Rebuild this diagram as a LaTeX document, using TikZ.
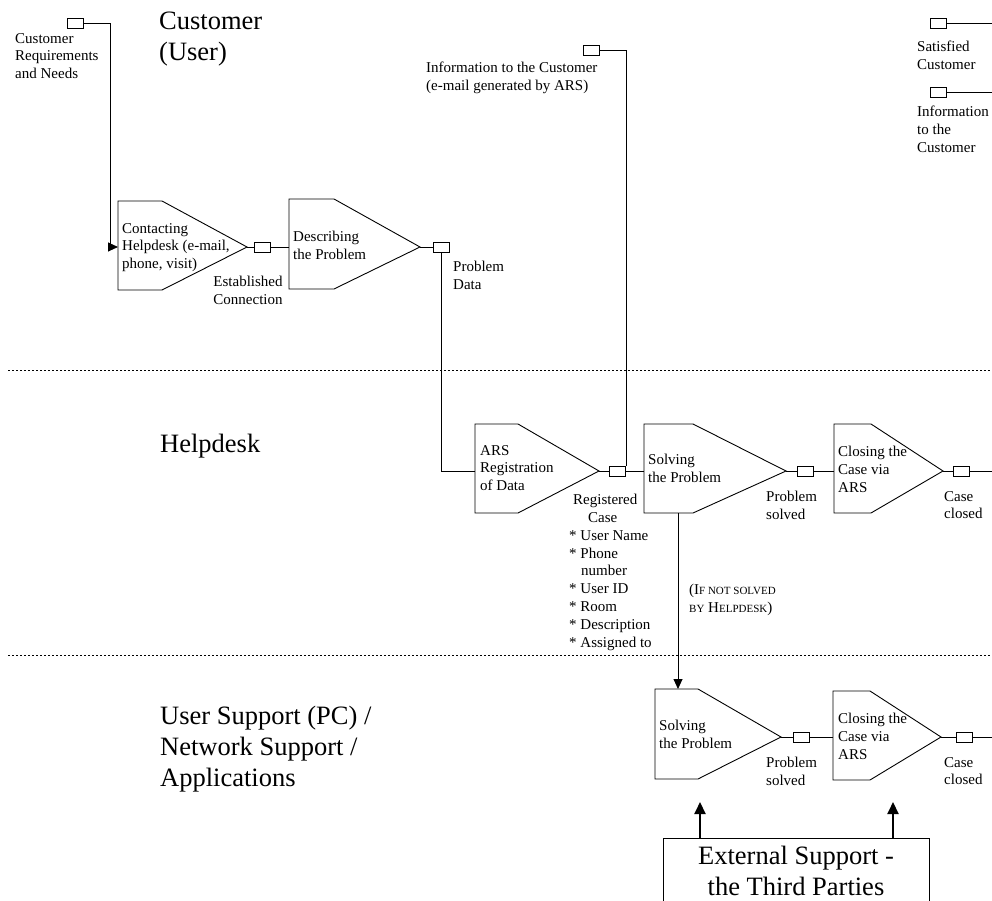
\documentclass[tikz,border=0pt]{standalone}
\usepackage{fontspec}
\setmainfont{Liberation Serif}
\usetikzlibrary{arrows.meta}
\newcommand{\procshape}[7]{%
  \draw[ln] (#2,#3) -- (#4,#3) -- (#5,#6) -- (#4,#7) -- (#2,#7) -- cycle;
  \coordinate (#1-in) at (#2,#6);
  \coordinate (#1-out) at (#5,#6);
}
\newcommand{\mysc}[1]{{\fontsize{11}{17.8}\selectfont #1}}
\begin{document}
\begin{tikzpicture}[x=1pt,y=-1pt,
  ln/.style={line width=0.9pt},
  port/.style={draw,line width=0.9pt,minimum width=16pt,minimum height=10pt,inner sep=0pt},
  sm/.style={font=\fontsize{15}{17.8}\selectfont,align=left,inner sep=0pt,anchor=north west},
  big/.style={font=\fontsize{26.5}{31}\selectfont,align=left,inner sep=0pt,anchor=north west},
  arr/.style={line width=0.9pt,-{Triangle[length=10pt,width=9pt]}},
  thickarr/.style={line width=2pt,-{Triangle[length=12pt,width=11pt]}},
  sep/.style={line width=0.9pt,dash pattern=on 2pt off 2pt}]
\useasboundingbox (0,0) rectangle (992,901);
\clip (0,0) rectangle (992,901);

% lane separators
\coordinate (s1a) at (8,370); \coordinate (s1b) at (992,370);
\coordinate (s2a) at (8,655); \coordinate (s2b) at (992,655);
\draw[sep] (s1a) -- (s1b);
\draw[sep] (s2a) -- (s2b);

% lane titles
\node[big] (tcust) at (159,11.5) {Customer\\(User)};
\node[big] (thelp) at (160,433.5) {Helpdesk};
\node[big] (tsupp) at (160,706) {User Support (PC) /\\Network Support /\\Applications};

% process shapes
\procshape{contact}{118}{201}{162}{247}{247}{290}
\procshape{desc}{289}{199}{334}{420}{247}{289}
\procshape{ars}{475}{424}{518}{599}{471}{513}
\procshape{solve}{644}{424}{693}{786}{471}{513}
\procshape{close}{834}{424}{871}{943}{471}{513}
\procshape{solvetwo}{655}{689}{698}{781}{737}{779}
\procshape{closetwo}{833}{691}{870}{941}{737}{780}

% shape texts
\node[sm] (contacttxt) at (122,223) {Contacting\\Helpdesk (e-mail,\\phone, visit)};
\node[sm] (desctxt) at (293,231) {Describing\\the Problem};
\node[sm] (arstxt) at (480,445) {ARS\\Registration\\of Data};
\node[sm] (solvetxt) at (648,454) {Solving\\the Problem};
\node[sm] (closetxt) at (838,446) {Closing the\\Case via\\ARS};
\node[sm] (solvetwotxt) at (659,720) {Solving\\the Problem};
\node[sm] (closetwotxt) at (838,713) {Closing the\\Case via\\ARS};

% ports
\node[port] (req) at (75.5,23.5) {};
\node[port] (estab) at (262,247) {};
\node[port] (pdata) at (441,247) {};
\node[port] (info) at (591,50) {};
\node[port] (regc) at (617.5,471) {};
\node[port] (psolved) at (805,471) {};
\node[port] (cclosed) at (961.5,471) {};
\node[port] (psolvedtwo) at (801,737) {};
\node[port] (cclosedtwo) at (964,737) {};
\node[port] (sat) at (938,23) {};
\node[port] (infotwo) at (938,92) {};

% port labels
\node[sm] (reqtxt) at (15,33) {Customer\\Requirements\\and Needs};
\node[sm,anchor=north,align=center] (estabtxt) at (248,276) {Established\\Connection};
\node[sm] (pdatatxt) at (453,261) {Problem\\Data};
\node[sm] (infotxt) at (426,62) {Information to the Customer\\(e-mail generated by ARS)};
\node[sm] (regctxt) at (569,494) {\hspace*{4pt}Registered\\\hspace*{19pt}Case\\* User Name\\* Phone\\\hspace*{12pt}number\\* User ID\\* Room\\* Description\\* Assigned to};
\node[sm] (psolvedtxt) at (766,491) {Problem\\solved};
\node[sm] (cclosedtxt) at (944,491) {Case\\closed};
\node[sm] (psolvedtwotxt) at (766,757) {Problem\\solved};
\node[sm] (cclosedtwotxt) at (944,757) {Case\\closed};
\node[sm] (sattxt) at (917,41) {Satisfied\\Customer};
\node[sm] (infotwotxt) at (917,106) {Information\\to the\\Customer};
\node[sm] (ifnot) at (689,584) {(I\mysc{F NOT SOLVED}\\\mysc{BY} H\mysc{ELPDESK})};

% connectors
\draw[arr] (req.east) -- ++(26.5,0) |- (contact-in);
\draw[ln] (contact-out) -- (estab.west);
\draw[ln] (estab.east) -- (desc-in);
\draw[ln] (desc-out) -- (pdata.west);
\draw[ln] (pdata.south) |- (ars-in);
\draw[ln] (ars-out) -- (regc.west);
\draw[ln] (regc.east) -- (solve-in);
\draw[ln] (regc.north east) |- (info.east);
\draw[ln] (solve-out) -- (psolved.west);
\draw[ln] (psolved.east) -- (close-in);
\draw[ln] (close-out) -- (cclosed.west);
\coordinate (endone) at (992,471);
\draw[ln] (cclosed.east) -- (endone);
\coordinate (droptop) at (678,513);
\coordinate (dropend) at (678,689);
\draw[arr] (droptop) -- (dropend);
\draw[ln] (solvetwo-out) -- (psolvedtwo.west);
\draw[ln] (psolvedtwo.east) -- (closetwo-in);
\draw[ln] (closetwo-out) -- (cclosedtwo.west);
\coordinate (endtwo) at (992,737);
\draw[ln] (cclosedtwo.east) -- (endtwo);
\coordinate (satend) at (992,23);
\draw[ln] (sat.east) -- (satend);
\coordinate (infotwoend) at (992,92);
\draw[ln] (infotwo.east) -- (infotwoend);

% external support
\node[draw,ln,minimum width=266pt,minimum height=90pt,anchor=north west,inner sep=0pt] (ext) at (663,838) {};
\node[font=\fontsize{26.5}{31}\selectfont,align=center,inner sep=0pt,anchor=north] (exttxt) at (796,846) {External Support -\\the Third Parties};
\draw[thickarr] ([xshift=37pt]ext.north west) -- ++(0,-36);
\draw[thickarr] ([xshift=230pt]ext.north west) -- ++(0,-36);
\end{tikzpicture}
\end{document}
